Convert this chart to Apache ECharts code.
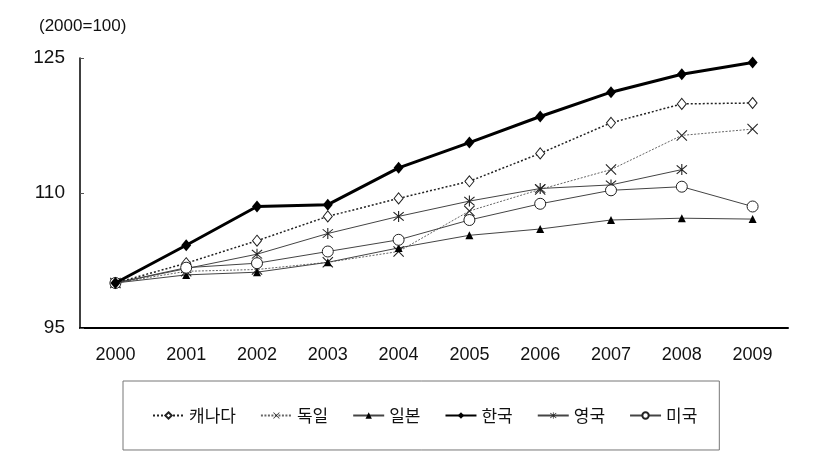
<!DOCTYPE html>
<html>
<head>
<meta charset="utf-8">
<script src="https://cdn.jsdelivr.net/npm/echarts@6/dist/echarts.min.js"></script>
<style>html,body{margin:0;padding:0;background:#fff}#c{width:829px;height:465px}</style>
</head>
<body>
<div id="c"></div>
<script>
var years = ['2000','2001','2002','2003','2004','2005','2006','2007','2008','2009'];
var yTicks = [95, 110, 125];
var unitNote = '(2000=100)';
var canada  = [100, 102.2, 104.7, 107.4, 109.4, 111.3, 114.4, 117.8, 119.9, 120.0];
var germany = [100, 101.3, 101.5, 102.3, 103.5, 108.0, 110.4, 112.6, 116.4, 117.1];
var japan   = [100, 100.9, 101.2, 102.3, 103.9, 105.3, 106.0, 107.0, 107.2, 107.1];
var korea   = [100, 104.2, 108.5, 108.7, 112.8, 115.6, 118.5, 121.2, 123.2, 124.5];
var uk      = [100, 101.6, 103.2, 105.5, 107.4, 109.1, 110.5, 110.9, 112.6, null];
var usa     = [100, 101.7, 102.2, 103.5, 104.8, 107.0, 108.8, 110.3, 110.7, 108.5];
var names = ['캐나다','독일','일본','한국','영국','미국'];

var FONT = '"Liberation Sans", Arial, "Noto Sans CJK KR", sans-serif';
var KFONT = '"Noto Sans CJK KR", "Liberation Sans", sans-serif';
var X_PATH = 'path://M0 0.7 L0.7 0 L10 9.3 L9.3 10 Z M9.3 0 L10 0.7 L0.7 10 L0 9.3 Z';
var STAR_PATH = 'path://M0 0.7 L0.7 0 L10 9.3 L9.3 10 Z M9.3 0 L10 0.7 L0.7 10 L0 9.3 Z M4.5 -1 L5.5 -1 L5.5 11 L4.5 11 Z';

var chart = echarts.init(document.getElementById('c'), null, {renderer:'canvas'});
chart.setOption({
  animation: false,
  backgroundColor: '#fff',
  title: {
    text: unitNote, left: 34, top: 13,
    textStyle: {fontFamily: FONT, fontSize: 17, fontWeight: 'normal', color: '#111'}
  },
  grid: {left: 80, right: 41, top: 58, bottom: 137},
  xAxis: {
    type: 'category', data: years, boundaryGap: true,
    axisLine: {lineStyle: {color: '#000', width: 2}},
    axisTick: {inside: true, length: 5, lineStyle: {color: '#777', width: 1}},
    axisLabel: {fontFamily: FONT, fontSize: 18, color: '#111', margin: 18}
  },
  yAxis: {
    type: 'value', min: yTicks[0], max: yTicks[yTicks.length-1], interval: 15,
    splitLine: {show: false},
    axisLine: {show: true, lineStyle: {color: '#000', width: 1.5}},
    axisTick: {show: true, inside: true, length: 4, lineStyle: {color: '#555'}},
    axisLabel: {fontFamily: FONT, fontSize: 19, color: '#111', margin: 15}
  },
  legend: {
    data: names, left: 123, top: 381,
    padding: [26, 22, 26, 29],
    borderColor: '#777', borderWidth: 1,
    itemWidth: 31, itemHeight: 8, itemGap: 24,
    textStyle: {fontFamily: KFONT, fontSize: 17, color: '#111'}
  },
  series: [
    {name: names[0], type: 'line', data: canada, symbol: 'diamond', symbolSize: [9, 11],
     lineStyle: {color: '#222', width: 1.5, type: [2, 2]},
     itemStyle: {color: '#fff', borderColor: '#222', borderWidth: 1}},
    {name: names[1], type: 'line', data: germany, symbol: X_PATH, symbolSize: 11,
     lineStyle: {color: '#666', width: 1, type: [2, 1.5]},
     itemStyle: {color: '#222', borderWidth: 0}},
    {name: names[2], type: 'line', data: japan, symbol: 'triangle', symbolSize: 8,
     lineStyle: {color: '#444', width: 1},
     itemStyle: {color: '#000'}},
    {name: names[4], type: 'line', data: uk, symbol: STAR_PATH, symbolSize: 11,
     lineStyle: {color: '#444', width: 1},
     itemStyle: {color: '#222', borderWidth: 0}},
    {name: names[5], type: 'line', data: usa, symbol: 'circle', symbolSize: 11,
     lineStyle: {color: '#444', width: 1},
     itemStyle: {color: '#fff', borderColor: '#222', borderWidth: 1}},
    {name: names[3], type: 'line', data: korea, symbol: 'diamond', symbolSize: [10, 12],
     lineStyle: {color: '#000', width: 3},
     itemStyle: {color: '#000'}, z: 5}
  ]
});
</script>
</body>
</html>
